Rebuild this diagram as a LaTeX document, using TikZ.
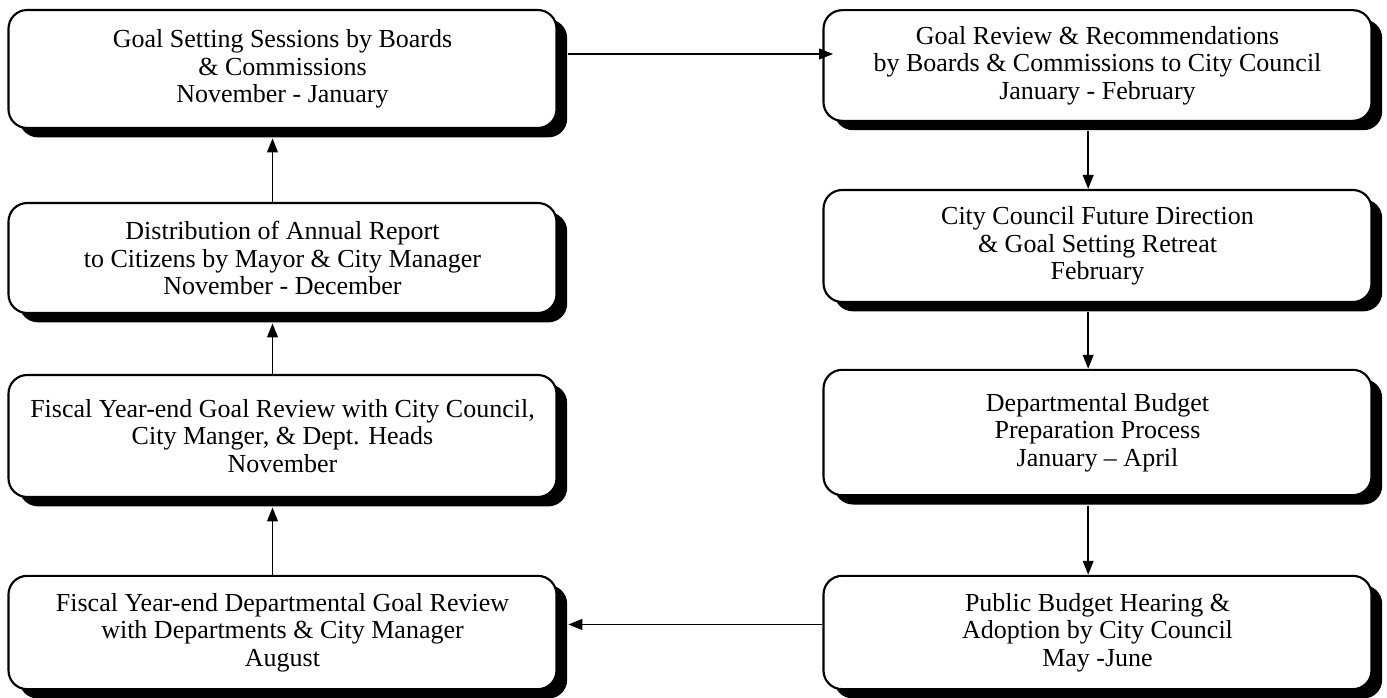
\documentclass[tikz,border=0pt]{standalone}
\usepackage{fontspec}
\setmainfont{Liberation Serif}
\usetikzlibrary{arrows.meta,shadows}
\begin{document}
\begin{tikzpicture}[x=0.75pt,y=-0.75pt,
  box/.style={draw=black,line width=1.6pt,rounded corners=14pt,fill=white,
    minimum width=411pt,align=center,inner sep=0pt,
    font=\fontsize{19.5pt}{20.6pt}\selectfont,
    drop shadow={shadow xshift=8pt,shadow yshift=-7pt,opacity=1,fill=black}},
  conn/.style={line width=1.4pt,-{Triangle[length=10.5pt,width=8pt]}}]
\useasboundingbox (0,0) rectangle (1387,698);
\node[box,minimum height=88.5pt] (L1) at (282.5,69) {Goal Setting Sessions by Boards\\ \& Commissions\\ November - January};
\node[box,minimum height=82.5pt] (L2) at (282.5,258) {Distribution of Annual Report\\ to Citizens by Mayor \& City Manager\\ November - December};
\node[box,minimum height=91.5pt] (L3) at (282.5,436) {Fiscal Year-end Goal Review with City Council,\\ City Manger, \& Dept. Heads\\ November};
\node[box,minimum height=85pt] (L4) at (282.5,632.5) {Fiscal Year-end Departmental Goal Review\\ with Departments \& City Manager\\ August};
\node[box,minimum height=83pt] (R1) at (1097.5,65.5) {Goal Review \& Recommendations\\ by Boards \& Commissions to City Council\\ January - February};
\node[box,minimum height=84pt] (R2) at (1097.5,246) {City Council Future Direction\\ \& Goal Setting Retreat\\ February};
\node[box,minimum height=94pt] (R3) at (1097.5,432.5) {Departmental Budget\\ Preparation Process\\ January – April};
\node[box,minimum height=85pt] (R4) at (1097.5,632.5) {Public Budget Hearing \&\\ Adoption by City Council\\ May -June};
% left column, upward
\draw[conn] ([xshift=-7.5pt]L4.north) -- ([xshift=-7.5pt,yshift=-7pt]L3.south);
\draw[conn] ([xshift=-7.5pt]L3.north) -- ([xshift=-7.5pt,yshift=-7pt]L2.south);
\draw[conn] ([xshift=-7.5pt]L2.north) -- ([xshift=-7.5pt,yshift=-7pt]L1.south);
% top
\draw[conn] ([shift={(10.7,-15)}]L1.east) -- ([shift={(10.7,-15)}]L1.east -| R1.west);
% right column, downward
\draw[conn] ([xshift=-7pt,yshift=-7pt]R1.south) -- ([xshift=-7pt]R2.north);
\draw[conn] ([xshift=-7pt,yshift=-7pt]R2.south) -- ([xshift=-7pt]R3.north);
\draw[conn] ([xshift=-7pt,yshift=-7pt]R3.south) -- ([xshift=-7pt]R4.north);
% bottom
\draw[conn] ([shift={(0,-8)}]R4.west) -- ([shift={(10.7,-8)}]L4.east);
\end{tikzpicture}
\end{document}
